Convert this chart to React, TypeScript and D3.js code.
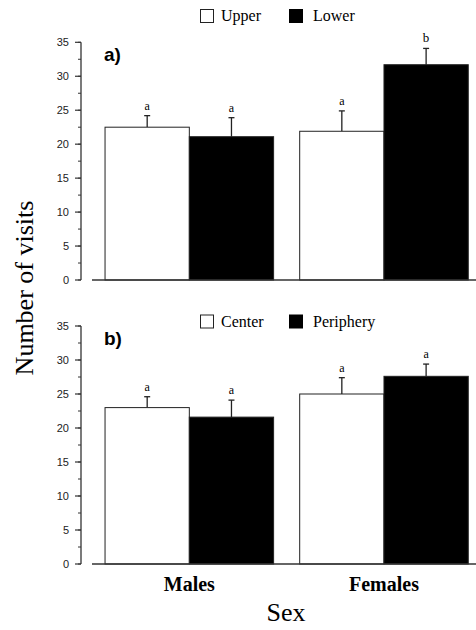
import React from "react";
import * as d3 from "d3";

const groups = ["Males", "Females"];
const seriesA = ["Upper", "Lower"];
const seriesB = ["Center", "Periphery"];
const valuesA = [[22.5, 21.1], [21.9, 31.7]];
const errorsA = [[1.7, 2.8], [3.0, 2.4]];
const lettersA = [["a", "a"], ["a", "b"]];
const valuesB = [[23.0, 21.6], [25.0, 27.6]];
const errorsB = [[1.6, 2.5], [2.4, 1.8]];
const lettersB = [["a", "a"], ["a", "a"]];
const yTicks = [0, 5, 10, 15, 20, 25, 30, 35];
const yMinorTicks = d3.range(0, 35.01, 2.5);
const fills = ["#ffffff", "#000000"];

const x0 = d3.scaleBand<string>().domain(groups).range([92, 481.3]).paddingInner(0.134).paddingOuter(0.067);

function Panel({ top, bottom, label, series, values, errors, letters, legendY }: any) {
  const y = d3.scaleLinear().domain([0, 35]).range([bottom, top]);
  const x1 = d3.scaleBand<number>().domain([0, 1]).range([0, x0.bandwidth()]).padding(0);
  const axisX = 81;
  const axisColor = "#333";
  return (
    <g>
      {/* legend */}
      <rect x={200.5} y={legendY + 0.5} width={13} height={13} fill="#fff" stroke="#222" strokeWidth={1} />
      <text x={221} y={legendY + 12} fontFamily="Liberation Serif, serif" fontSize={16}>{series[0]}</text>
      <rect x={289} y={legendY} width={14} height={14} fill="#000" />
      <text x={313} y={legendY + 12} fontFamily="Liberation Serif, serif" fontSize={16}>{series[1]}</text>
      {/* panel label */}
      <text x={104} y={top + 19} fontFamily="Liberation Sans, Arial, sans-serif" fontSize={19} fontWeight={600}>{label}</text>
      {/* bars */}
      {groups.map((g, gi) => (
        <g key={g} transform={`translate(${x0(g)},0)`}>
          {values[gi].map((v: number, si: number) => {
            const bx = x1(si)!;
            const bw = x1.bandwidth();
            const cx = bx + bw / 2;
            const et = y(v + errors[gi][si]);
            return (
              <g key={si}>
                <line x1={cx} x2={cx} y1={y(v)} y2={et} stroke="#222" strokeWidth={1.3} />
                <line x1={cx - 3} x2={cx + 3} y1={et} y2={et} stroke="#222" strokeWidth={1.3} />
                <rect x={bx} y={y(v)} width={bw} height={y(0) - y(v)} fill={fills[si]} stroke="#222" strokeWidth={1} />
                <text x={cx} y={et - 6} textAnchor="middle" fontFamily="Liberation Serif, serif" fontSize={letters[gi][si] === "b" ? 13 : 12}>{letters[gi][si]}</text>
              </g>
            );
          })}
        </g>
      ))}
      {/* baseline */}
      <line x1={92} x2={476} y1={y(0)} y2={y(0)} stroke={axisColor} strokeWidth={1.3} />
      {/* y axis */}
      <line x1={axisX} x2={axisX} y1={y(0)} y2={y(35)} stroke={axisColor} strokeWidth={1.3} />
      {yMinorTicks.map((t) => (
        <line key={"m" + t} x1={axisX - 3} x2={axisX} y1={y(t)} y2={y(t)} stroke={axisColor} strokeWidth={1} />
      ))}
      {yTicks.map((t) => (
        <g key={t}>
          <line x1={axisX - 6} x2={axisX} y1={y(t)} y2={y(t)} stroke={axisColor} strokeWidth={1.2} />
          <text x={69} y={y(t) + 4} textAnchor="end" fontFamily="Liberation Sans, Arial, sans-serif" fontSize={11} fill="#222">{t}</text>
        </g>
      ))}
    </g>
  );
}

export default function App() {
  return (
    <svg width={476} height={630} style={{ position: "absolute", left: 0, top: 0, background: "#fff" }}>
      <rect width={476} height={630} fill="#fff" />
      <Panel top={42.3} bottom={280} label="a)" series={seriesA} values={valuesA} errors={errorsA} letters={lettersA} legendY={9} />
      <Panel top={326} bottom={564} label="b)" series={seriesB} values={valuesB} errors={errorsB} letters={lettersB} legendY={314.5} />
      {groups.map((g) => (
        <text key={g} x={x0(g)! + x0.bandwidth() / 2} y={591} textAnchor="middle" fontFamily="Liberation Serif, serif" fontSize={20} fontWeight="bold">{g}</text>
      ))}
      <text x={286} y={621} textAnchor="middle" fontFamily="Liberation Serif, serif" fontSize={26}>Sex</text>
      <text transform="translate(33,288) rotate(-90)" textAnchor="middle" fontFamily="Liberation Serif, serif" fontSize={26}>Number of visits</text>
    </svg>
  );
}
